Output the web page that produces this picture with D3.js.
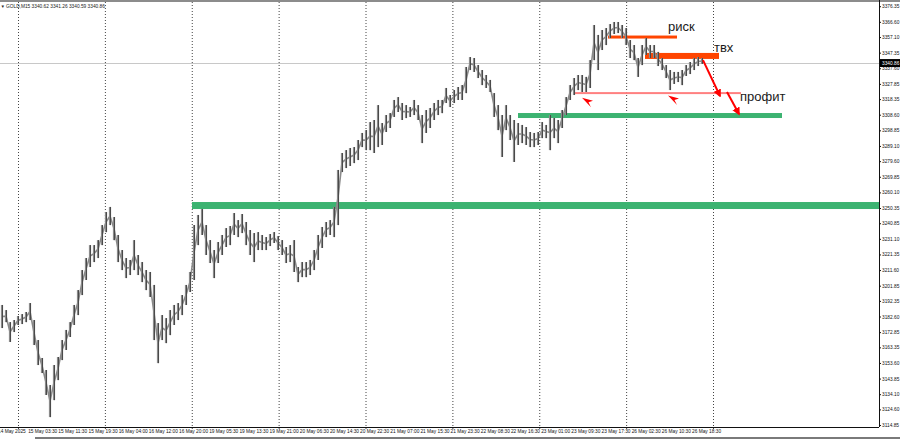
<!DOCTYPE html>
<html><head><meta charset="utf-8">
<script src="https://cdn.jsdelivr.net/npm/d3@7/dist/d3.min.js"></script>
<style>
html,body{margin:0;padding:0;background:#fff;}
svg{display:block;}
</style></head>
<body>
<svg id="chart" width="900" height="439"></svg>
<script>
// ---- data (prices; each bucket = a group of M15 candles) ----
const barHigh = [3189.8,3186.6,3179.1,3180.4,3182.9,3184.1,3185.4,3191.0,3180.4,3167.9,3156.7,3149.2,3139.8,3152.3,3157.3,3167.9,3174.2,3179.1,3189.8,3199.1,
3211.6,3219.1,3227.2,3227.2,3230.3,3239.7,3247.8,3251.0,3244.7,3233.5,3224.1,3219.1,3217.9,3230.3,3221.0,3216.6,3211.6,3210.4,3202.3,3178.5,
3183.5,3181.6,3186.6,3189.8,3191.0,3196.0,3202.3,3210.4,3239.7,3246.0,3249.7,3239.7,3230.3,3224.1,3229.1,3233.5,3237.8,3239.1,3247.2,3242.8,
3246.6,3241.6,3236.6,3234.7,3235.3,3233.5,3232.2,3234.1,3235.3,3232.8,3230.3,3226.0,3227.2,3230.3,3213.5,3216.6,3216.6,3217.9,3224.1,3233.5,
3238.5,3241.6,3242.8,3251.0,3274.1,3284.7,3286.5,3287.8,3288.4,3292.8,3297.2,3299.0,3304.0,3305.3,3314.6,3303.4,3308.4,3309.6,3317.8,3319.6,
3315.9,3314.6,3313.4,3317.8,3314.6,3308.4,3311.5,3312.8,3315.9,3317.8,3317.8,3325.3,3320.9,3324.0,3325.9,3327.1,3338.4,3344.6,3344.0,3339.6,
3336.5,3333.4,3330.3,3322.1,3314.6,3308.4,3314.6,3308.4,3305.3,3303.4,3302.2,3300.9,3297.8,3297.2,3297.8,3304.0,3302.2,3308.4,3306.5,3305.3,
3311.5,3319.6,3327.1,3331.5,3333.4,3333.4,3332.2,3342.7,3364.6,3358.4,3361.5,3362.7,3365.2,3366.5,3366.5,3364.6,3362.7,3355.2,3352.1,3344.0,
3352.1,3356.5,3352.1,3352.1,3347.8,3344.0,3339.6,3336.5,3335.3,3335.3,3336.5,3339.6,3341.5,3344.0,3344.6,3344.0];
const barLow = [3175.4,3179.1,3166.7,3172.9,3177.3,3177.9,3179.1,3180.4,3164.8,3152.3,3147.3,3133.6,3119.8,3130.4,3142.9,3155.4,3161.7,3169.8,3177.3,3183.5,
3196.0,3205.4,3213.5,3216.6,3219.1,3227.2,3235.3,3239.7,3230.3,3216.6,3211.6,3206.6,3208.5,3211.6,3208.5,3204.1,3199.1,3194.8,3167.9,3153.5,
3167.9,3166.0,3171.0,3177.3,3180.4,3183.5,3189.8,3197.9,3205.4,3227.2,3233.5,3221.0,3216.0,3206.6,3216.0,3221.0,3226.0,3227.2,3233.5,3232.2,
3234.7,3227.2,3221.0,3216.6,3224.1,3224.1,3224.1,3226.6,3228.5,3224.1,3221.0,3216.0,3216.6,3210.4,3204.1,3207.2,3207.2,3208.5,3211.6,3217.9,
3225.4,3232.2,3233.5,3232.2,3239.7,3272.8,3275.3,3276.6,3278.4,3280.3,3288.4,3286.5,3286.5,3284.7,3288.4,3289.7,3297.8,3300.3,3307.2,3310.3,
3305.3,3306.5,3307.2,3308.4,3305.3,3290.9,3297.2,3300.3,3305.3,3308.4,3309.6,3315.9,3313.4,3315.9,3317.8,3317.8,3322.1,3336.5,3335.3,3331.5,
3327.1,3325.3,3322.8,3307.2,3299.0,3282.2,3299.0,3292.8,3279.1,3289.7,3290.9,3289.7,3288.4,3288.4,3289.7,3294.0,3294.0,3286.5,3294.0,3290.9,
3300.3,3308.4,3317.8,3320.9,3324.0,3322.8,3322.8,3325.3,3342.7,3336.5,3349.0,3352.1,3356.5,3359.0,3359.6,3356.5,3352.1,3344.0,3342.7,3332.2,
3339.6,3345.9,3344.0,3344.0,3339.0,3336.5,3331.5,3324.0,3327.8,3329.0,3327.1,3332.8,3334.0,3336.5,3339.0,3340.3];

const priceTicks = [3376.35,3366.60,3357.10,3347.35,3337.60,3327.85,3318.35,3308.60,3298.85,3289.10,3279.60,3269.85,3260.10,3250.35,
3240.85,3231.10,3221.35,3211.60,3201.85,3192.35,3182.60,3172.85,3163.35,3153.60,3143.85,3134.10,3124.60,3114.85];
const timeLabels = ["14 May 2025","15 May 03:30","15 May 11:30","15 May 19:30","16 May 04:00","16 May 12:00","16 May 20:00","19 May 05:30",
"19 May 13:30","19 May 21:00","20 May 06:30","20 May 14:30","20 May 22:30","21 May 07:00","21 May 15:30","21 May 23:30","22 May 08:30",
"22 May 16:30","23 May 01:00","23 May 09:30","23 May 17:30","26 May 02:30","26 May 10:30","26 May 18:30"];
const daySeparators = ["15 May","16 May","19 May","20 May","21 May","22 May","23 May","26 May","27 May"];
const symbol = "GOLD,M15";
const lastOHLC = [3340.62, 3341.26, 3340.59, 3340.86];
const lastPrice = 3340.86;

// drawn objects (bucket index positions, prices)
const zones = [
  {name:"support1", from:47.5,   to:219.5, price:3251.9, thick:7, color:"#3cb371"},
  {name:"support2", from:129,    to:195,   price:3308.1, thick:5, color:"#3cb371"},
  {name:"profit",   from:143.25, to:184.75,price:3322.1, thick:2, color:"#ff8080"},
  {name:"risk",     from:151.5,  to:168.75,price:3357.1, thick:3, color:"#ff4500"},
  {name:"entry",    from:160.75, to:179.25,price:3345.3, thick:6, color:"#ff4500"}
];
const arrows = [
  {x0:175.25, p0:3342.7, x1:179.5, p1:3320.3},
  {x0:181.25, p0:3322.8, x1:184.25, p1:3309.0}
];
const markers = [{x:145.0, p:3319.2},{x:166.5, p:3320.6}];
const notes = [
  {text:"риск",   x:166.5, p:3360.9},
  {text:"твх",    x:178,   p:3347.6},
  {text:"профит", x:184.5, p:3317.2}
];

// ---- layout ----
const W = 900, H = 439, plotR = 879, plotB = 427;
const svg = d3.select("#chart");
const x = d3.scaleLinear().domain([0, barHigh.length - 1]).range([2, 702]);
const y = d3.scaleLinear().domain([3114.86, 3380.23]).range([425, 0]);

// top border
svg.append("rect").attr("x",0).attr("y",0).attr("width",W).attr("height",2).attr("fill","#8c8c8c");

// day separators
const dayX = d3.scalePoint().domain(daySeparators).range([18.5, 713.5]);
svg.append("g").selectAll("line").data(daySeparators).join("line")
  .attr("x1", d=>dayX(d)).attr("x2", d=>dayX(d)).attr("y1", 2).attr("y2", plotB+3)
  .attr("stroke","#444").attr("stroke-width",1).attr("stroke-dasharray","1,2");

// current price line
svg.append("line").attr("x1",0).attr("x2",plotR).attr("y1",Math.round(y(lastPrice))+0.5).attr("y2",Math.round(y(lastPrice))+0.5)
  .attr("stroke","#c8c8c8").attr("stroke-width",1);

// zones
const zoneG = svg.append("g");
zones.forEach(z=>{
  zoneG.append("rect").attr("x", x(z.from)).attr("width", Math.min(x(z.to), plotR) - x(z.from))
    .attr("y", y(z.price) - z.thick/2).attr("height", z.thick).attr("fill", z.color);
});

// price bars
const mids = barHigh.map((h,i)=>[x(i), y((h + barLow[i]) / 2)]);
const barG = svg.append("g");
barG.append("path").attr("d", d3.line().curve(d3.curveLinear)(mids))
  .attr("fill","none").attr("stroke","#8a8a8a").attr("stroke-width",1.6);
barG.selectAll("rect").data(barHigh).join("rect")
  .attr("x", (d,i)=>x(i)-1.1).attr("width", 2.2)
  .attr("y", d=>y(d)).attr("height", (d,i)=>Math.max(1, y(barLow[i]) - y(d)))
  .attr("fill","#8a8a8a");
barG.selectAll("line").data(barHigh).join("line")
  .attr("x1",(d,i)=>x(i)+0.5).attr("x2",(d,i)=>x(i)+0.5)
  .attr("y1", d=>y(d)).attr("y2",(d,i)=>y(barLow[i]))
  .attr("stroke","#4a4a4a").attr("stroke-width",1);

// arrows
const defs = svg.append("defs");
defs.append("marker").attr("id","ah").attr("viewBox","0 0 10 10").attr("refX",8).attr("refY",5)
  .attr("markerWidth",4).attr("markerHeight",4).attr("orient","auto")
  .append("path").attr("d","M0,0 L10,5 L0,10 z").attr("fill","#ff0000");
svg.append("g").selectAll("line").data(arrows).join("line")
  .attr("x1",d=>x(d.x0)).attr("y1",d=>y(d.p0)).attr("x2",d=>x(d.x1)).attr("y2",d=>y(d.p1))
  .attr("stroke","#ff0000").attr("stroke-width",2).attr("marker-end","url(#ah)");

// small arrow markers pointing up-left
svg.append("g").selectAll("path").data(markers).join("path")
  .attr("transform", d=>`translate(${x(d.x)},${y(d.p)})`)
  .attr("d","M0,0 L11,3 L6.5,4.5 L9,9.5 z").attr("fill","#ff0000");

// notes
svg.append("g").selectAll("text").data(notes).join("text")
  .attr("x", d=>x(d.x)).attr("y", d=>y(d.p)).text(d=>d.text)
  .attr("font-family","Liberation Sans, Arial, sans-serif").attr("font-size",13).attr("fill","#1a1a1a");

// right price axis
const yAxis = d3.axisRight(y).tickValues(priceTicks).tickFormat(d3.format(".2f")).tickSize(2).tickPadding(1);
const ag = svg.append("g").attr("transform",`translate(${plotR},0)`).call(yAxis);
ag.select(".domain").attr("d",`M0.5,0V${plotB}`).attr("stroke","#111");
ag.selectAll(".tick line").attr("stroke","#111");
ag.selectAll(".tick text").attr("font-family","Liberation Sans, Arial, sans-serif").attr("font-size",4.8).attr("fill","#111");

// bottom border
svg.append("line").attr("x1",0).attr("x2",plotR).attr("y1",plotB+0.5).attr("y2",plotB+0.5).attr("stroke","#111");

// last price box
const ly = y(lastPrice);
svg.append("rect").attr("x",plotR+1).attr("y",ly-4).attr("width",W-plotR-1).attr("height",8).attr("fill","#000");
svg.append("text").attr("x",plotR+3).attr("y",ly+1.8).text(d3.format(".2f")(lastPrice))
  .attr("font-family","Liberation Sans, Arial, sans-serif").attr("font-size",4.8).attr("fill","#fff");

// time labels
const tx = d3.scalePoint().domain(timeLabels).range([-2, 692]);
svg.append("g").selectAll("text").data(timeLabels).join("text")
  .attr("x", d=>tx(d)).attr("y", 433).text(d=>d)
  .attr("font-family","Liberation Sans, Arial, sans-serif").attr("font-size",4.8).attr("fill","#111");

// bottom scrollbar edge
svg.append("rect").attr("x",35).attr("y",437).attr("width",W-35).attr("height",2).attr("fill","#7a7a7a");

// header
svg.append("text").attr("x",1.5).attr("y",8).text("\u25BE")
  .attr("font-family","DejaVu Sans, sans-serif").attr("font-size",5).attr("fill","#222");
svg.append("text").attr("x",6).attr("y",8).text(symbol + "  " + lastOHLC.map(d3.format(".2f")).join(" "))
  .attr("font-family","Liberation Sans, Arial, sans-serif").attr("font-size",4.8).attr("fill","#222");
</script>
</body></html>
